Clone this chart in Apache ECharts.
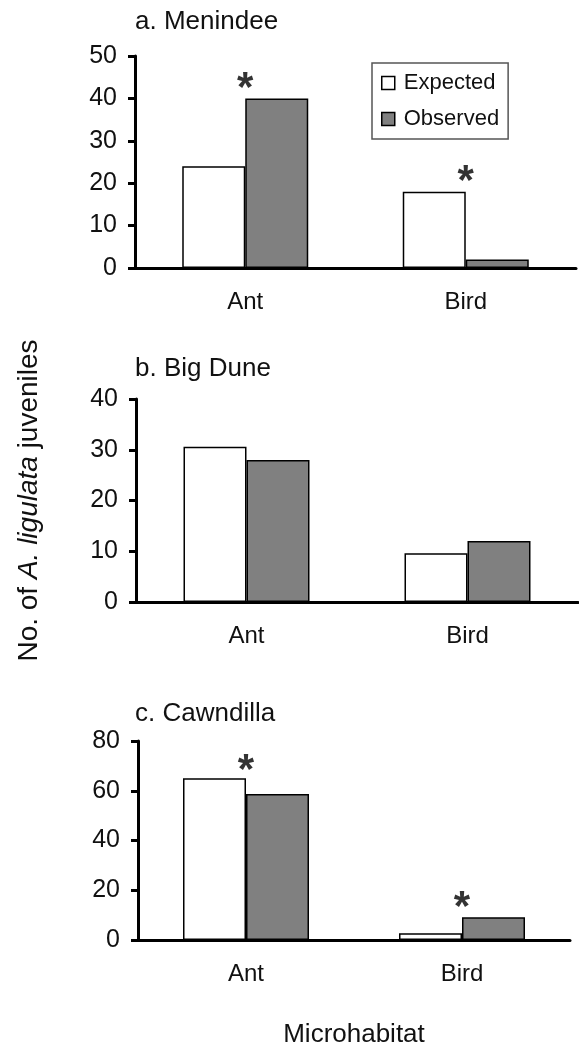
<!DOCTYPE html>
<html>
<head>
<meta charset="utf-8">
<script src="https://cdn.jsdelivr.net/npm/echarts@6/dist/echarts.min.js"></script>
<style>
    html, body { margin: 0; padding: 0; background: #fff; }
    #main { width: 579px; height: 1050px; }
</style>
</head>
<body>
<div id="main"></div>
<script type="text/javascript">
    // 数据
    var categories = ['Ant', 'Bird'];
    var panelTitles = ['a. Menindee', 'b. Big Dune', 'c. Cawndilla'];
    var expectedA = [24, 18];
    var observedA = [40, 2];
    var expectedB = [30.6, 9.6];
    var observedB = [28, 12];
    var expectedC = [65, 2.7];
    var observedC = [58.7, 9.1];
    // 显著性星号位置
    var starsA = [['Ant', 44.4], ['Bird', 22.5]];
    var starsC = [['Ant', 71.6], ['Bird', 16.9]];
    var yMax = [50, 40, 80];
    var yStep = [10, 10, 20];

    var font = "'Liberation Sans', Arial, sans-serif";
    var myChart = echarts.init(document.getElementById('main'));

    var grids = [
        {left: 135, width: 441, top: 56, height: 212},
        {left: 136, width: 442, top: 399, height: 203},
        {left: 138, width: 432, top: 741, height: 199}
    ];
    var titleTops = [4, 351, 696];

    var xAxes = [], yAxes = [], titles = [];
    for (var i = 0; i < 3; i++) {
        titles.push({
            text: panelTitles[i], left: 130, top: titleTops[i],
            textStyle: {fontSize: 26, fontWeight: 'normal', color: '#111', fontFamily: font}
        });
        xAxes.push({
            type: 'category', gridIndex: i, data: categories,
            axisLine: {lineStyle: {color: '#000', width: 3}},
            axisTick: {show: false},
            axisLabel: {fontSize: 24, color: '#111', margin: 22, fontFamily: font}
        });
        yAxes.push({
            type: 'value', gridIndex: i, min: 0, max: yMax[i], interval: yStep[i],
            splitLine: {show: false},
            axisLine: {show: true, lineStyle: {color: '#000', width: 3}},
            axisTick: {show: true, length: 7, lineStyle: {color: '#000', width: 3}},
            axisLabel: {fontSize: 25, color: '#111', margin: 18, fontFamily: font}
        });
    }
    yAxes[1].name = '{n|No. of }{i|A. ligulata}{n| juveniles}';
    yAxes[1].nameLocation = 'middle';
    yAxes[1].nameGap = 93;
    yAxes[1].nameTextStyle = {
        fontSize: 28, color: '#111', fontFamily: font,
        rich: {
            n: {fontSize: 28, color: '#111', fontFamily: font},
            i: {fontSize: 28, color: '#111', fontFamily: font, fontStyle: 'italic'}
        }
    };
    xAxes[2].name = 'Microhabitat';
    xAxes[2].nameLocation = 'middle';
    xAxes[2].nameGap = 82;
    xAxes[2].nameTextStyle = {fontSize: 26, color: '#111', fontFamily: font};

    var expStyle = {color: '#fff', borderColor: '#000', borderWidth: 1.5};
    var obsStyle = {color: '#808080', borderColor: '#000', borderWidth: 1.5};

    function barPair(idx, exp, obs) {
        return [
            {name: 'Expected', type: 'bar', xAxisIndex: idx, yAxisIndex: idx, data: exp,
             barWidth: 63, barGap: '0%', itemStyle: expStyle},
            {name: 'Observed', type: 'bar', xAxisIndex: idx, yAxisIndex: idx, data: obs,
             barWidth: 63, barGap: '0%', itemStyle: obsStyle}
        ];
    }
    function stars(idx, data) {
        return {
            name: 'sig' + idx, type: 'scatter', xAxisIndex: idx, yAxisIndex: idx,
            data: data, symbolSize: 1, itemStyle: {color: 'rgba(0,0,0,0)'},
            label: {show: true, position: 'inside', formatter: '*', fontSize: 42,
                    fontWeight: 'bold', color: '#000', fontFamily: font, offset: [0, 10]}
        };
    }

    var series = [].concat(
        barPair(0, expectedA, observedA),
        barPair(1, expectedB, observedB),
        barPair(2, expectedC, observedC),
        [stars(0, starsA), stars(2, starsC)]
    );

    var option = {
        backgroundColor: '#fff',
        animation: false,
        title: titles,
        legend: {
            data: [
                {name: 'Expected', icon: 'rect', itemStyle: expStyle},
                {name: 'Observed', icon: 'rect', itemStyle: obsStyle}
            ],
            orient: 'vertical', left: 372, top: 63,
            itemWidth: 13, itemHeight: 13, itemGap: 14,
            padding: [9, 9, 9, 9],
            borderColor: '#555', borderWidth: 1.5,
            textStyle: {fontSize: 22, color: '#111', fontFamily: font, padding: [0, 0, 0, 4]}
        },
        grid: grids,
        xAxis: xAxes,
        yAxis: yAxes,
        series: series
    };
    myChart.setOption(option);
</script>
</body>
</html>
